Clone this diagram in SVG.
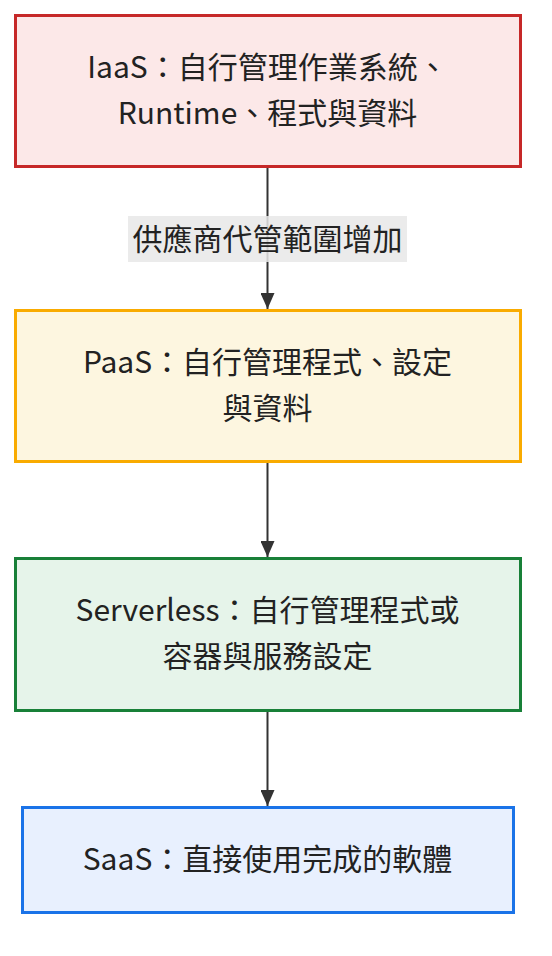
<svg xmlns="http://www.w3.org/2000/svg" width="552" height="956" viewBox="0 0 552 956">
<defs>
<marker id="arrow" viewBox="0 0 16 14" refX="16" refY="7" markerWidth="16" markerHeight="14" markerUnits="userSpaceOnUse" orient="auto">
<path d="M0,0 L16,7 L0,14 Z" fill="#333333"/>
</marker>
</defs>
<style>
text { font-family: "Noto Sans CJK TC", "Noto Sans", sans-serif; font-size: 30px; fill: #222222; text-anchor: middle; }
.edge { stroke: #333333; stroke-width: 2; fill: none; }
.box { stroke-width: 3; }
</style>
<rect width="552" height="956" fill="#ffffff"/>
<g id="connectors">
<line class="edge" x1="267.5" y1="168" x2="267.5" y2="309" marker-end="url(#arrow)"/>
<line class="edge" x1="267.5" y1="463" x2="267.5" y2="557" marker-end="url(#arrow)"/>
<line class="edge" x1="267.5" y1="712" x2="267.5" y2="806" marker-end="url(#arrow)"/>
<g id="edge-label">
<rect x="128" y="216" width="279" height="46" fill="#e8e8e8" fill-opacity="0.85"/>
<text x="267.5" y="250" fill="#333333">供應商代管範圍增加</text>
</g>
</g>
<g id="iaas">
<rect class="box" x="15.5" y="15.5" width="505" height="151" fill="#fce8e8" stroke="#c62828"/>
<text x="267.5" y="78">IaaS：自行管理作業系統、</text>
<text x="267.5" y="124">Runtime、程式與資料</text>
</g>
<g id="paas">
<rect class="box" x="15.5" y="310.5" width="505" height="151" fill="#fdf6e0" stroke="#f9ab00"/>
<text x="267.5" y="373">PaaS：自行管理程式、設定</text>
<text x="267.5" y="419">與資料</text>
</g>
<g id="serverless">
<rect class="box" x="15.5" y="558.5" width="505" height="152" fill="#e6f4ea" stroke="#188038"/>
<text x="267.5" y="621">Serverless：自行管理程式或</text>
<text x="267.5" y="667">容器與服務設定</text>
</g>
<g id="saas">
<rect class="box" x="22.5" y="807.5" width="491" height="105" fill="#e8f0fe" stroke="#1a73e8"/>
<text x="267.5" y="870">SaaS：直接使用完成的軟體</text>
</g>
</svg>
